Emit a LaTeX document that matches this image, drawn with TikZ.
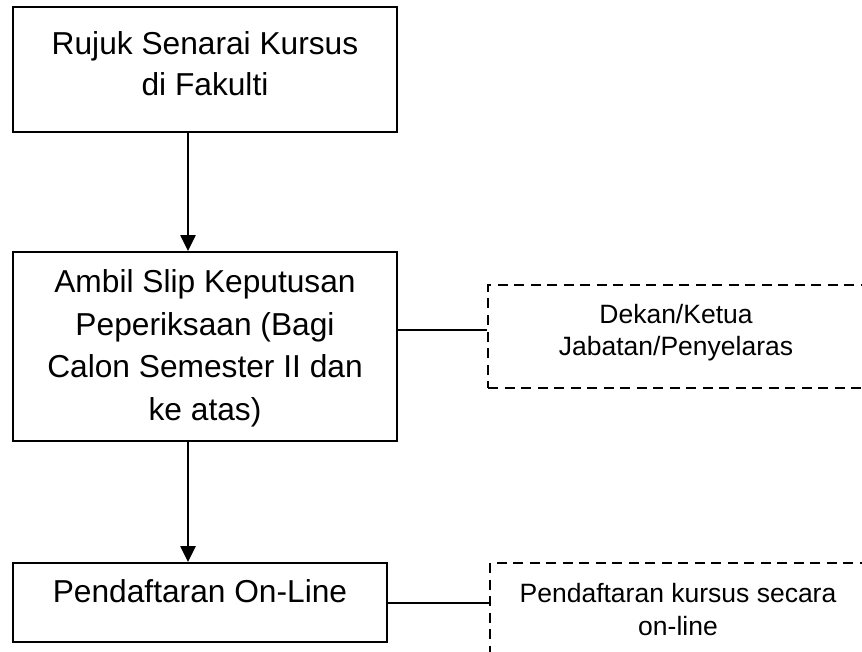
\documentclass[tikz,border=0pt]{standalone}
\usepackage{fontspec}
\setmainfont{Liberation Sans}
\usetikzlibrary{arrows.meta}
\begin{document}
\begin{tikzpicture}[x=1pt,y=-1pt,
  box/.style={draw, line width=1.8pt, inner sep=0pt},
  dbox/.style={draw, line width=1.8pt, dash pattern=on 10pt off 6.5pt, inner sep=0pt},
  bigtxt/.style={font=\fontsize{31.7}{42.5}\selectfont, align=center, inner sep=0pt, anchor=north},
  smalltxt/.style={font=\fontsize{26.5}{32.5}\selectfont, align=center, inner sep=0pt, anchor=north},
  arr/.style={line width=2.3pt, -{Triangle[length=16pt,width=15pt]}},
  link/.style={line width=1.5pt}]
\useasboundingbox (0,0) rectangle (862,652);
\clip (0,0) rectangle (862,652);
% boxes
\node[box, minimum width=384pt, minimum height=125pt] (b1) at (205,69.5) {};
\node[box, minimum width=384pt, minimum height=189pt] (b2) at (205,346.5) {};
\node[box, minimum width=374pt, minimum height=79pt] (b3) at (200,602.5) {};
\node[dbox, minimum width=412pt, minimum height=103pt] (d1) at (694,336.5) {};
\node[dbox, minimum width=410pt, minimum height=137pt] (d2) at (695,631.5) {};
% texts
\node[bigtxt, font=\fontsize{31.7}{40.5}\selectfont] (t1) at (205,31.6) {Rujuk Senarai Kursus\\di Fakulti};
\node[bigtxt] (t2) at (205,269.6) {Ambil Slip Keputusan\\Peperiksaan (Bagi\\Calon Semester II dan\\ke atas)};
\node[bigtxt] (t3) at (200,579.6) {Pendaftaran On-Line};
\node[smalltxt] (t4) at (676,304) {Dekan/Ketua\\Jabatan/Penyelaras};
\node[smalltxt] (t5) at (678,583.5) {Pendaftaran kursus secara\\on-line};
% connectors
\coordinate (ax) at (188,0);
\coordinate (c1) at (0,330);
\coordinate (c2) at (0,603);
\draw[arr] (b1.south -| ax) -- (b2.north -| ax);
\draw[arr] (b2.south -| ax) -- (b3.north -| ax);
\draw[link] (b2.east |- c1) -- (d1.west |- c1);
\draw[link] (b3.east |- c2) -- (d2.west |- c2);
\end{tikzpicture}
\end{document}
